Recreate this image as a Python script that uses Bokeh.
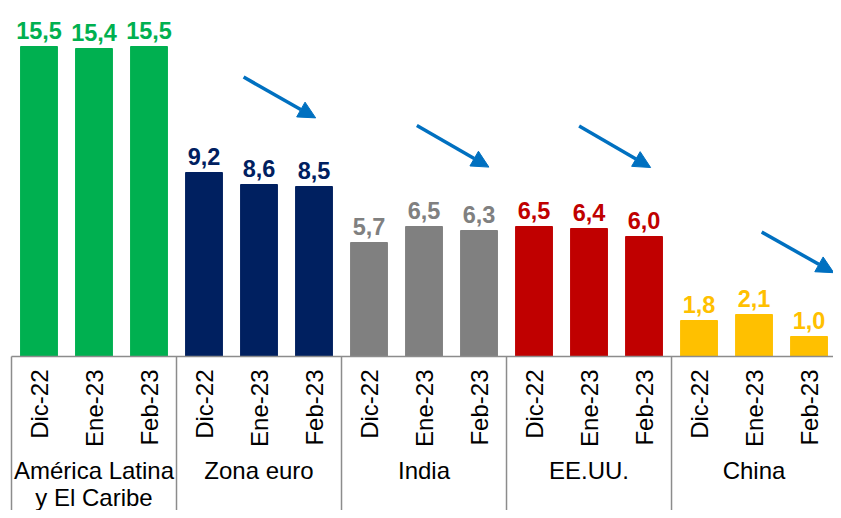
import math
from bokeh.plotting import figure
from bokeh.models import Range1d, ColumnDataSource, Arrow, NormalHead
from bokeh.core.properties import value
from bokeh.embed import file_html
from bokeh.resources import INLINE

# ---- data ----
groups = ["América Latina\ny El Caribe", "Zona euro", "India", "EE.UU.", "China"]
months = ["Dic-22", "Ene-23", "Feb-23"]
latam = [15.5, 15.4, 15.5]
zona_euro = [9.2, 8.6, 8.5]
india = [5.7, 6.5, 6.3]
eeuu = [6.5, 6.4, 6.0]
china = [1.8, 2.1, 1.0]
series = [latam, zona_euro, india, eeuu, china]
colors = ["#00B050", "#002060", "#808080", "#C00000", "#FFC000"]

# arrow annotations (start x, start y, end x, end y) in data units
arrows = [(4.22, 13.97, 5.53, 11.93),
          (7.37, 11.55, 8.68, 9.47),
          (10.32, 11.52, 11.62, 9.45),
          (13.64, 6.22, 14.95, 4.19)]

FONT = "Liberation Sans"
n_m = len(months)

xs, tops, cols, labels, mlabels = [], [], [], [], []
for gi, vals in enumerate(series):
    for mi, v in enumerate(vals):
        xs.append(gi * n_m + mi + 0.5)
        tops.append(v)
        cols.append(colors[gi])
        labels.append(f"{v:.1f}".replace(".", ","))
        mlabels.append(months[mi])

src = ColumnDataSource(dict(x=xs, top=tops, color=cols, label=labels, month=mlabels))

p = figure(width=833, height=510, output_backend="svg", toolbar_location=None,
           x_range=Range1d(-0.2, 14.945), y_range=Range1d(-7.7, 17.8),
           x_axis_location=None, y_axis_location=None, min_border=0)
p.outline_line_color = None
p.grid.visible = False
p.background_fill_color = "white"

p.vbar(x="x", top="top", bottom=0, width=0.67, color="color", source=src)

p.text(x="x", y="top", text="label", text_color="color", source=src,
       text_font=value(FONT), text_font_style="bold", text_font_size="23.5px",
       text_align="center", text_baseline="alphabetic", y_offset=-16)

# axis line and group dividers
n_g = len(groups)
bounds = [i * n_m for i in range(n_g + 1)]
p.segment(x0=bounds[0], y0=0, x1=bounds[-1], y1=0, line_color="#8C8C8C", line_width=1.5)
left_edges = bounds[:-1]
p.segment(x0=left_edges, y0=[0] * n_g, x1=left_edges, y1=[-9] * n_g,
          line_color="#8C8C8C", line_width=1.5)

# month labels (rotated)
p.text(x="x", y=-0.65, text="month", source=src, angle=math.pi / 2,
       text_font=value(FONT), text_font_size="24px", text_color="black",
       text_align="right", text_baseline="middle")

# group labels
gx = [i * n_m + n_m / 2 for i in range(n_g)]
p.text(x=gx, y=[-5.0] * n_g, text=groups, text_font=value(FONT),
       text_font_size="24px", text_color="black", text_align="center",
       text_baseline="top", text_line_height=1.0)

for (x0, y0, x1, y1) in arrows:
    p.add_layout(Arrow(x_start=x0, y_start=y0, x_end=x1, y_end=y1,
                       line_color="#0070C0", line_width=3.5,
                       end=NormalHead(size=17, fill_color="#0070C0", line_color="#0070C0")))

open("out.html", "w").write(file_html(p, INLINE))
